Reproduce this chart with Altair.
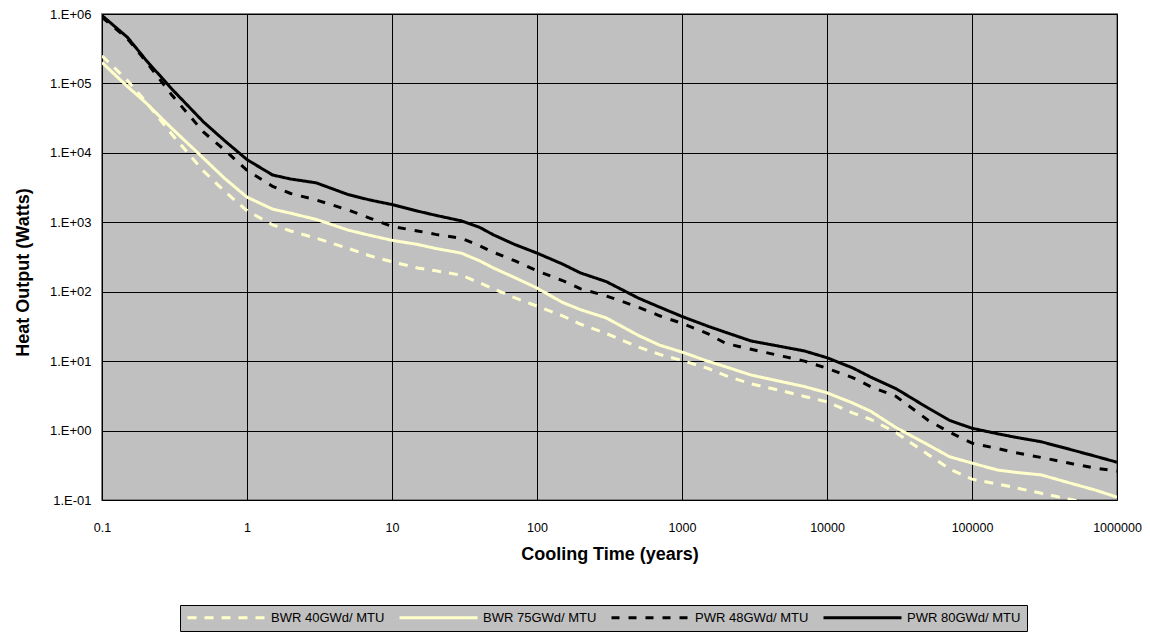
import altair as alt
import pandas as pd

# Cooling time (years)
times = [0.1, 0.15, 0.2, 0.3, 0.5, 0.7, 1, 1.5, 2, 3, 5, 7, 10, 15, 20, 30, 40, 50, 70,
         100, 150, 200, 300, 500, 700, 1000, 1500, 2000, 3000, 5000, 7000, 10000,
         15000, 20000, 30000, 50000, 70000, 100000, 150000, 200000, 300000, 500000,
         700000, 1000000]

bwr40 = [2.5e5, 1.1e5, 5.5e4, 1.9e4, 5.5e3, 2.8e3, 1.47e3, 9.2e2, 7.5e2, 5.9e2, 4.2e2,
         3.3e2, 2.7e2, 2.2e2, 2.0e2, 1.73e2, 1.35e2, 1.1e2, 82, 62, 45, 34, 25, 16, 12.5,
         10.2, 7.9, 6.2, 4.7, 3.7, 3.1, 2.6, 1.8, 1.45, 0.93, 0.45, 0.28, 0.2, 0.17, 0.15,
         0.125, 0.1, 0.085, 0.07]

bwr75 = [2.0e5, 9.0e4, 5.3e4, 2.3e4, 8.4e3, 4.3e3, 2.3e3, 1.55e3, 1.35e3, 1.1e3, 7.7e2,
         6.5e2, 5.5e2, 4.8e2, 4.2e2, 3.6e2, 2.8e2, 2.2e2, 1.6e2, 1.13e2, 70, 55, 42, 23.5,
         17, 13.5, 10, 8.3, 6.3, 5.0, 4.3, 3.5, 2.5, 1.9, 1.1, 0.62, 0.42, 0.34, 0.27, 0.25,
         0.23, 0.17, 0.14, 0.11]

pwr48 = [9.0e5, 4.4e5, 2.1e5, 7.0e4, 2.0e4, 1.1e4, 5.6e3, 3.3e3, 2.6e3, 2.1e3, 1.5e3,
         1.15e3, 8.7e2, 7.5e2, 6.7e2, 5.9e2, 4.6e2, 3.7e2, 2.8e2, 2.0e2, 1.45e2, 1.1e2, 87,
         60, 45, 35, 25, 18, 14.8, 11.7, 10, 7.9, 5.8, 4.3, 3.1, 1.4, 0.95, 0.66, 0.55,
         0.48, 0.41, 0.33, 0.29, 0.26]

pwr80 = [9.5e5, 4.6e5, 2.2e5, 8.5e4, 2.8e4, 1.5e4, 8.0e3, 4.8e3, 4.2e3, 3.7e3, 2.5e3,
         2.1e3, 1.8e3, 1.45e3, 1.26e3, 1.05e3, 8.5e2, 6.6e2, 4.8e2, 3.6e2, 2.5e2, 1.86e2,
         1.4e2, 81, 60, 44, 32, 26, 19.5, 16, 14, 11.2, 8, 5.9, 4.0, 2.1, 1.4, 1.08, 0.9,
         0.8, 0.69, 0.52, 0.43, 0.35]

series_names = ["BWR 40GWd/ MTU", "BWR 75GWd/ MTU", "PWR 48GWd/ MTU", "PWR 80GWd/ MTU"]
series_colors = ["#FFFFCC", "#FFFFCC", "#000000", "#000000"]
series_dashes = [[9, 8], [1, 0], [8, 9], [1, 0]]
x_ticks = [0.1, 1, 10, 100, 1000, 10000, 100000, 1000000]
y_ticks = [0.1, 1, 10, 100, 1000, 10000, 100000, 1000000]

rows = []
for name, vals in zip(series_names, [bwr40, bwr75, pwr48, pwr80]):
    for t, v in zip(times, vals):
        rows.append({"t": t, "heat": v, "series": name})
df = pd.DataFrame(rows)

FONT = "Liberation Sans"

legend_kw = dict(
    orient="none", legendX=78, legendY=591, direction="horizontal", columns=4,
    title=None, symbolType="M-1,0H14.6", symbolSize=100, symbolStrokeWidth=3,
    labelFont=FONT, labelFontSize=13, labelColor="black", labelLimit=300,
    labelOffset=72, fillColor="#c0c0c0", strokeColor="#000000", padding=6,
    columnPadding=8,
)

chart = alt.Chart(df).mark_line(strokeWidth=3, clip=True).encode(
    x=alt.X("t:Q",
            scale=alt.Scale(type="log", domain=[0.1, 1000000], nice=False),
            axis=alt.Axis(values=x_ticks, grid=True, gridColor="black", gridWidth=1,
                          ticks=False, domain=False, labelFont=FONT, labelFontSize=12.5,
                          labelColor="black", labelPadding=21, labelFlush=False,
                          labelExpr="datum.value < 1 ? '0.1' : format(datum.value, 'd')",
                          title="Cooling Time (years)", titleFont=FONT, titleFontSize=18,
                          titleFontWeight="bold", titleColor="black", titlePadding=12)),
    y=alt.Y("heat:Q",
            scale=alt.Scale(type="log", domain=[0.1, 1000000], nice=False),
            axis=alt.Axis(values=y_ticks, grid=True, gridColor="black", gridWidth=1,
                          ticks=False, domain=False, labelFont=FONT, labelFontSize=13,
                          labelColor="black", labelPadding=11, labelFlush=False,
                          labelExpr="datum.value >= 1 ? '1.E+0' + round(log(datum.value)/LN10) : '1.E-0' + round(-log(datum.value)/LN10)",
                          title="Heat  Output (Watts)", titleFont=FONT, titleFontSize=18,
                          titleFontWeight="bold", titleColor="black", titlePadding=17,
                          titleY=258)),
    color=alt.Color("series:N", scale=alt.Scale(domain=series_names, range=series_colors),
                    legend=alt.Legend(**legend_kw)),
    strokeDash=alt.StrokeDash("series:N",
                              scale=alt.Scale(domain=series_names, range=series_dashes),
                              legend=alt.Legend(**legend_kw)),
    detail="series:N",
).properties(
    width=1015, height=486,
    padding={"left": 94, "top": 6, "right": 25, "bottom": 133},
    autosize="none",
    background="white",
).configure_view(
    fill="#c0c0c0", stroke="#808080", strokeWidth=2
)

chart.save("out.html", embed_options={"renderer": "svg", "actions": False})
